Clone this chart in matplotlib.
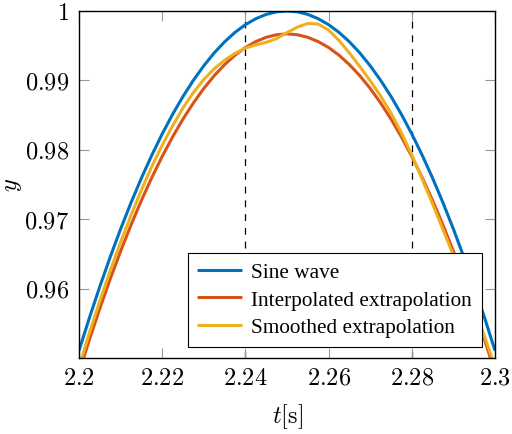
import matplotlib
matplotlib.use("Agg")
import matplotlib.pyplot as plt

plt.rcParams['mathtext.fontset'] = 'cm'
plt.rcParams['font.family'] = ['Liberation Serif', 'DejaVu Serif']

# ---- data ----
t = [2.2 + 0.0025 * k for k in range(41)]

sine_wave = [0.95106, 0.95579, 0.96029, 0.96456, 0.96858, 0.97237, 0.97592, 0.97922,
             0.98229, 0.98511, 0.98769, 0.99002, 0.99211, 0.99396, 0.99556, 0.99692,
             0.99803, 0.99889, 0.99951, 0.99988, 1.00000, 0.99988, 0.99951, 0.99889,
             0.99803, 0.99692, 0.99556, 0.99396, 0.99211, 0.99002, 0.98769, 0.98511,
             0.98229, 0.97922, 0.97592, 0.97237, 0.96858, 0.96456, 0.96029, 0.95579,
             0.95106]

interpolated = [0.94792, 0.95264, 0.95712, 0.96138, 0.96538, 0.96916, 0.97270, 0.97599,
                0.97905, 0.98186, 0.98443, 0.98675, 0.98884, 0.99068, 0.99227, 0.99363,
                0.99474, 0.99559, 0.99621, 0.99658, 0.99670, 0.99658, 0.99621, 0.99559,
                0.99474, 0.99363, 0.99227, 0.99068, 0.98884, 0.98675, 0.98443, 0.98186,
                0.97905, 0.97599, 0.97270, 0.96916, 0.96538, 0.96138, 0.95712, 0.95264,
                0.94792]

smoothed = [0.94872, 0.95364, 0.95822, 0.96258, 0.96668, 0.97056, 0.97420, 0.97759,
            0.98065, 0.98346, 0.98603, 0.98825, 0.99014, 0.99168, 0.99290, 0.99390,
            0.99465, 0.99512, 0.99548, 0.99602, 0.99688, 0.99768, 0.99820, 0.99812,
            0.99725, 0.99575, 0.99395, 0.99200, 0.98995, 0.98775, 0.98530, 0.98245,
            0.97925, 0.97575, 0.97220, 0.96850, 0.96480, 0.96110, 0.95720, 0.95310,
            0.94870]

series_labels = ['Sine wave', 'Interpolated extrapolation', 'Smoothed extrapolation']
dashed_at = [2.24, 2.28]

xticks = [2.2, 2.22, 2.24, 2.26, 2.28, 2.3]
xtick_labels = ['2.2', '2.22', '2.24', '2.26', '2.28', '2.3']
yticks = [0.96, 0.97, 0.98, 0.99, 1.0]
ytick_labels = ['0.96', '0.97', '0.98', '0.99', '1']

# ---- figure ----
fig = plt.figure(figsize=(5.12, 4.35), dpi=100)
ax = fig.add_axes([79 / 512, 1 - 359 / 435, 416 / 512, 347 / 435])

for xd in dashed_at:
    ax.axvline(xd, color='black', lw=0.9, dashes=(5.5, 5.5), zorder=1)

colors = ['#0072BD', '#D95319', '#EDB120']
for ys, c, lab in zip([sine_wave, interpolated, smoothed], colors, series_labels):
    ax.plot(t, ys, color=c, lw=2.2, label=lab, solid_capstyle='butt', zorder=3)

ax.set_xlim(2.2, 2.3)
ax.set_ylim(0.95, 1.0)
ax.set_xticks(xticks, ['$' + s + '$' for s in xtick_labels])
ax.set_yticks(yticks, ['$' + s + '$' for s in ytick_labels])
ax.tick_params(direction='in', length=7.5, width=0.8, color='#999999',
               top=True, right=True, labelsize=17.5, pad=7)
for sp in ax.spines.values():
    sp.set_linewidth(1.0)
    sp.set_color('black')
    sp.set_zorder(5)

ax.set_xlabel(r'$t[\mathrm{s}]$', fontsize=17.5, labelpad=9)
fig.text(13 / 512, 1 - 185 / 435, r'$y$', fontsize=17.5, rotation=90,
         ha='center', va='center')

leg = ax.legend(loc='lower right', bbox_to_anchor=(0.968, 0.032), borderaxespad=0,
                prop={'family': 'Liberation Serif', 'size': 15.3},
                fancybox=False, framealpha=1, edgecolor='black',
                handlelength=2.1, handletextpad=0.45, labelspacing=0.36, borderpad=0.45)
leg.get_frame().set_linewidth(0.8)
leg.set_zorder(6)

fig.savefig('out.png', dpi=100)
